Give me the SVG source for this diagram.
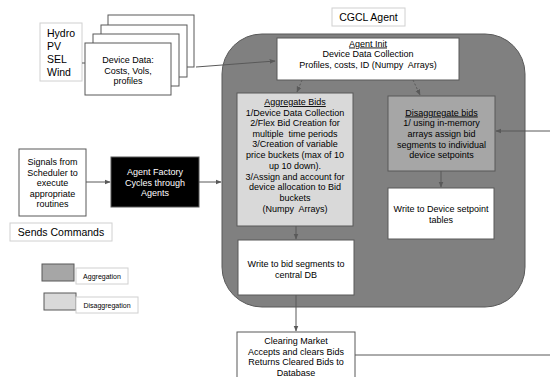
<svg xmlns="http://www.w3.org/2000/svg" width="550" height="377" viewBox="0 0 550 377">
<defs>
<style>
text{font-family:"Liberation Sans",Arial,sans-serif;fill:#000;text-anchor:middle}
.t9{font-size:9px}
.t10{font-size:10.5px}
.t7{font-size:7px}
.pre{white-space:pre}
.box{fill:#fff;stroke:#595959;stroke-width:1}
.lbl{fill:#fff;stroke:#d0d0d0;stroke-width:1}
.ln{stroke:#595959;stroke-width:1;fill:none}
.dash{stroke:#595959;stroke-width:1;fill:none;stroke-dasharray:2,2}
.u{text-decoration:underline}
</style>
<marker id="ah" viewBox="0 0 10 10" refX="9" refY="5" markerWidth="6" markerHeight="6" orient="auto" markerUnits="userSpaceOnUse">
<path d="M0,1 L10,5 L0,9 z" fill="#595959"/>
</marker>
</defs>
<rect width="550" height="377" fill="#fff"/>

<g id="cgcl-agent-container">
<rect x="222" y="34" width="303" height="273" rx="40" ry="40" fill="#808080" stroke="#595959"/>
</g>
<g id="cgcl-agent-label">
<rect class="lbl" x="332" y="8" width="73" height="18"/>
<text class="t10" x="368.5" y="21">CGCL Agent</text>
</g>

<g id="sources">
<rect class="lbl" x="40" y="23" width="42" height="58"/>
<text class="t10" x="47" y="37" style="text-anchor:start">Hydro</text>
<text class="t10" x="47" y="50" style="text-anchor:start">PV</text>
<text class="t10" x="47" y="63" style="text-anchor:start">SEL</text>
<text class="t10" x="47" y="76" style="text-anchor:start">Wind</text>
</g>

<g id="device-data">
<rect class="box" x="108" y="15" width="86" height="52"/>
<rect class="box" x="101" y="25" width="86" height="52"/>
<rect class="box" x="93" y="34" width="86" height="52"/>
<rect class="box" x="85" y="43" width="86" height="52"/>
<text class="t9" x="128" y="63">Device Data:</text>
<text class="t9" x="128" y="74">Costs, Vols,</text>
<text class="t9" x="128" y="84">profiles</text>
</g>

<g id="agent-init">
<rect class="box" x="277" y="38" width="182" height="42"/>
<text class="t9 u" x="368" y="46.5">Agent Init</text>
<text class="t9" x="368" y="56.5">Device Data Collection</text>
<text class="t9 pre" x="368" y="67.5" xml:space="preserve">Profiles, costs, ID (Numpy  Arrays)</text>
</g>

<g id="aggregate-bids">
<rect x="237" y="93" width="116" height="133" fill="#d9d9d9" stroke="#595959"/>
<text class="t9 u" x="295" y="105">Aggregate Bids</text>
<text class="t9" x="295" y="115.5">1/Device Data Collection</text>
<text class="t9" x="295" y="126">2/Flex Bid Creation for</text>
<text class="t9 pre" x="295" y="136.5" xml:space="preserve">multiple  time periods</text>
<text class="t9" x="295" y="147">3/Creation of variable</text>
<text class="t9" x="295" y="158">price buckets (max of 10</text>
<text class="t9" x="295" y="168.5">up 10 down).</text>
<text class="t9" x="295" y="179.5">3/Assign and account for</text>
<text class="t9" x="295" y="190">device allocation to Bid</text>
<text class="t9" x="295" y="200.5">buckets</text>
<text class="t9 pre" x="295" y="211.5" xml:space="preserve">(Numpy  Arrays)</text>
</g>

<g id="disaggregate-bids">
<rect x="388" y="96" width="107" height="75" fill="#a6a6a6" stroke="#595959"/>
<text class="t9 u" x="441.5" y="115.5">Disaggregate bids</text>
<text class="t9" x="441.5" y="126">1/ using in-memory</text>
<text class="t9" x="441.5" y="137">arrays assign bid</text>
<text class="t9" x="441.5" y="147.5">segments to individual</text>
<text class="t9" x="441.5" y="158">device setpoints</text>
</g>

<g id="write-device-setpoint">
<rect class="box" x="388" y="188" width="106" height="51"/>
<text class="t9" x="441" y="211.5">Write to Device setpoint</text>
<text class="t9" x="441" y="222.5">tables</text>
</g>

<g id="write-bid-segments">
<rect class="box" x="238" y="240" width="116" height="55"/>
<text class="t9" x="296" y="266.5">Write to bid segments to</text>
<text class="t9" x="296" y="277.5">central DB</text>
</g>

<g id="clearing-market">
<rect class="box" x="237" y="332" width="118" height="60"/>
<text class="t9" x="296" y="343.5">Clearing Market</text>
<text class="t9" x="296" y="354.5">Accepts and clears Bids</text>
<text class="t9" x="296" y="365">Returns Cleared Bids to</text>
<text class="t9" x="296" y="375.5">Database</text>
</g>

<g id="signals">
<rect class="box" x="19" y="149" width="67" height="67"/>
<text class="t9" x="52.5" y="165">Signals from</text>
<text class="t9" x="52.5" y="175.5">Scheduler to</text>
<text class="t9" x="52.5" y="186">execute</text>
<text class="t9" x="52.5" y="196.5">appropriate</text>
<text class="t9" x="52.5" y="207">routines</text>
</g>

<g id="agent-factory">
<rect x="111" y="157" width="88" height="50" fill="#000" stroke="#595959"/>
<text class="t9" x="155" y="175" style="fill:#fff">Agent Factory</text>
<text class="t9" x="155" y="185.5" style="fill:#fff">Cycles through</text>
<text class="t9" x="155" y="196" style="fill:#fff">Agents</text>
</g>

<g id="sends-commands">
<rect class="lbl" x="10" y="223" width="102" height="18"/>
<text class="t10" x="61" y="236">Sends Commands</text>
</g>

<g id="legend-aggregation">
<rect x="42" y="264" width="32" height="17" fill="#a6a6a6" stroke="#595959"/>
<rect class="lbl" x="76" y="268" width="52" height="16"/>
<text class="t7" x="102" y="278.5">Aggregation</text>
</g>
<g id="legend-disaggregation">
<rect x="44" y="293" width="32" height="17" fill="#d9d9d9" stroke="#595959"/>
<rect class="lbl" x="76" y="297" width="62" height="16"/>
<text class="t7" x="107" y="307.5">Disaggregation</text>
</g>

<g id="connectors">
<line class="ln" x1="82" y1="63" x2="85" y2="63"/>
<line class="ln" x1="196" y1="67" x2="275" y2="61" marker-end="url(#ah)"/>
<line class="ln" x1="86" y1="182" x2="110" y2="182" marker-end="url(#ah)"/>
<line class="ln" x1="199" y1="182" x2="221" y2="182" marker-end="url(#ah)"/>
<line class="dash" x1="302" y1="80" x2="297" y2="92" marker-end="url(#ah)"/>
<line class="dash" x1="413" y1="80" x2="420" y2="95" marker-end="url(#ah)"/>
<line class="ln" x1="296" y1="226" x2="296" y2="239" marker-end="url(#ah)"/>
<line class="ln" x1="441" y1="171" x2="441" y2="187" marker-end="url(#ah)"/>
<line class="ln" x1="296" y1="295" x2="296" y2="331" marker-end="url(#ah)"/>
<line class="ln" x1="550" y1="131" x2="496" y2="131" marker-end="url(#ah)"/>
<line class="ln" x1="355" y1="355" x2="550" y2="355"/>
</g>
</svg>
